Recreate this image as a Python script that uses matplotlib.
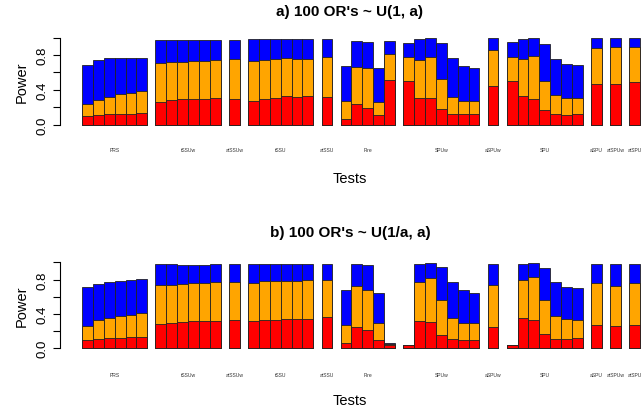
import matplotlib
matplotlib.use("Agg")
import matplotlib.pyplot as plt

plt.rcParams['font.family'] = ['Liberation Sans', 'DejaVu Sans']

groups = ["PRS", "tSSUw", "atSSUw", "tSSU", "atSSU", "Fire", "SPUw", "aSPUw", "SPU", "aSPU", "atSPUw", "atSPU"]
group_sizes = [6, 6, 1, 6, 1, 5, 7, 1, 7, 1, 1, 1]

# Panel a: power at three effect sizes (red = smallest, orange = middle, blue = largest)
a_red = [0.096, 0.108, 0.12, 0.12, 0.123, 0.127,
         0.254, 0.28, 0.288, 0.296, 0.296, 0.304,
         0.296,
         0.273, 0.296, 0.308, 0.327, 0.32, 0.327,
         0.32,
         0.065, 0.23, 0.19, 0.108, 0.508,
         0.5, 0.308, 0.304, 0.18, 0.123, 0.12, 0.12,
         0.442,
         0.496, 0.33, 0.296, 0.17, 0.115, 0.11, 0.12,
         0.465, 0.465, 0.488]
a_orange = [0.24, 0.285, 0.32, 0.345, 0.36, 0.38,
            0.704, 0.723, 0.723, 0.735, 0.735, 0.738,
            0.75,
            0.73, 0.738, 0.75, 0.76, 0.754, 0.754,
            0.78,
            0.27, 0.665, 0.646, 0.254, 0.81,
            0.777, 0.746, 0.773, 0.52, 0.315, 0.265, 0.265,
            0.86,
            0.78, 0.758, 0.785, 0.5, 0.342, 0.308, 0.308,
            0.877, 0.896, 0.896]
a_blue = [0.68, 0.74, 0.765, 0.76, 0.77, 0.77,
          0.97, 0.97, 0.97, 0.97, 0.97, 0.973,
          0.973,
          0.98, 0.98, 0.98, 0.98, 0.98, 0.988,
          0.988,
          0.67, 0.96, 0.954, 0.654, 0.96,
          0.94, 0.98, 0.99, 0.94, 0.76, 0.677, 0.65,
          1.0,
          0.95, 0.985, 0.99, 0.923, 0.75, 0.69, 0.68,
          1.0, 1.0, 1.0]

# Panel b
b_red = [0.097, 0.108, 0.116, 0.116, 0.136, 0.128,
         0.28, 0.3, 0.306, 0.318, 0.318, 0.322,
         0.326,
         0.318, 0.33, 0.333, 0.337, 0.337, 0.337,
         0.36,
         0.058, 0.244, 0.213, 0.097, 0.043,
         0.035, 0.314, 0.302, 0.155, 0.105, 0.1, 0.097,
         0.248,
         0.035, 0.35, 0.333, 0.163, 0.108, 0.108, 0.116,
         0.267, 0.26, 0.267]
b_orange = [0.26, 0.333, 0.357, 0.38, 0.384, 0.407,
            0.733, 0.74, 0.752, 0.756, 0.76, 0.77,
            0.767,
            0.76, 0.783, 0.783, 0.783, 0.783, 0.8,
            0.8,
            0.267, 0.72, 0.678, 0.295, 0.046,
            0.037, 0.77, 0.82, 0.566, 0.35, 0.3, 0.29,
            0.74,
            0.037, 0.8, 0.83, 0.562, 0.38, 0.34, 0.333,
            0.756, 0.73, 0.76]
b_blue = [0.71, 0.748, 0.77, 0.78, 0.80, 0.81,
          0.977, 0.984, 0.973, 0.973, 0.973, 0.977,
          0.984,
          0.977, 0.977, 0.977, 0.98, 0.98, 0.98,
          0.984,
          0.682, 0.98, 0.969, 0.647, 0.062,
          0.04, 0.98, 0.996, 0.94, 0.775, 0.68, 0.643,
          0.98,
          0.04, 0.98, 0.992, 0.93, 0.775, 0.71, 0.70,
          0.98, 0.98, 0.98]

yticks = [0.0, 0.2, 0.4, 0.6, 0.8, 1.0]
ytick_labels = ["0.0", "", "0.4", "", "0.8", ""]

W, H = 643, 410
fig = plt.figure(figsize=(W / 100, H / 100), dpi=100)

gap = 0.75
positions = []
centers = []
x = 0.0
for n in group_sizes:
    start = x
    for k in range(n):
        positions.append(x)
        x += 1.0
    centers.append((start + x) / 2)
    x += gap
total = x - gap

px_axis_left = 60
px_bar_left = 82
px_bar_right = 640
units_per_px = total / (px_bar_right - px_bar_left)
xmin = -(px_bar_left - px_axis_left) * units_per_px
xmax = total


def make_panel(y0_px, y1_px, red, orange, blue, title, label_y_px, xlabel_y_px, title_y_px):
    left = px_axis_left / W
    width = (px_bar_right - px_axis_left) / W
    bottom = 1 - y0_px / H
    height = (y0_px - y1_px) / H
    ax = fig.add_axes([left, bottom, width, height])
    for vals, col in ((blue, "#0000FF"), (orange, "#FFA500"), (red, "#FF0000")):
        ax.bar(positions, vals, width=1.0, align='edge', color=col,
               edgecolor='#222222', linewidth=0.6, clip_on=False)
    ax.set_xlim(xmin, xmax)
    ax.set_ylim(0, 1)
    for s in ("top", "right", "bottom"):
        ax.spines[s].set_visible(False)
    ax.spines["left"].set_bounds(0, 1)
    ax.spines["left"].set_linewidth(0.8)
    ax.set_xticks([])
    ax.set_yticks(yticks)
    ax.set_yticklabels(ytick_labels, rotation=90, va='center', fontsize=9.5)
    ax.tick_params(axis='y', length=5, width=0.8, pad=3)
    ax.set_ylabel("Power", fontsize=10.5, labelpad=6)
    ylab = -(label_y_px - y0_px) / (y0_px - y1_px)
    for c, g in zip(centers, groups):
        ax.text(c, ylab, g, transform=ax.get_xaxis_transform(), fontsize=3.6,
                ha='center', va='center', color='#333333')
    fig.text((px_axis_left + px_bar_right) / 2 / W, 1 - xlabel_y_px / H, "Tests",
             ha='center', va='center', fontsize=10.5)
    fig.text((px_axis_left + px_bar_right) / 2 / W, 1 - title_y_px / H, title,
             ha='center', va='center', fontsize=11, fontweight='bold')
    return ax


make_panel(125.5, 38.5, a_red, a_orange, a_blue, "a) 100 OR's ~ U(1, a)", 151, 179, 12)
make_panel(349.3, 263.3, b_red, b_orange, b_blue, "b) 100 OR's ~ U(1/a, a)", 376, 401, 233)

fig.savefig("out.png", dpi=100)
